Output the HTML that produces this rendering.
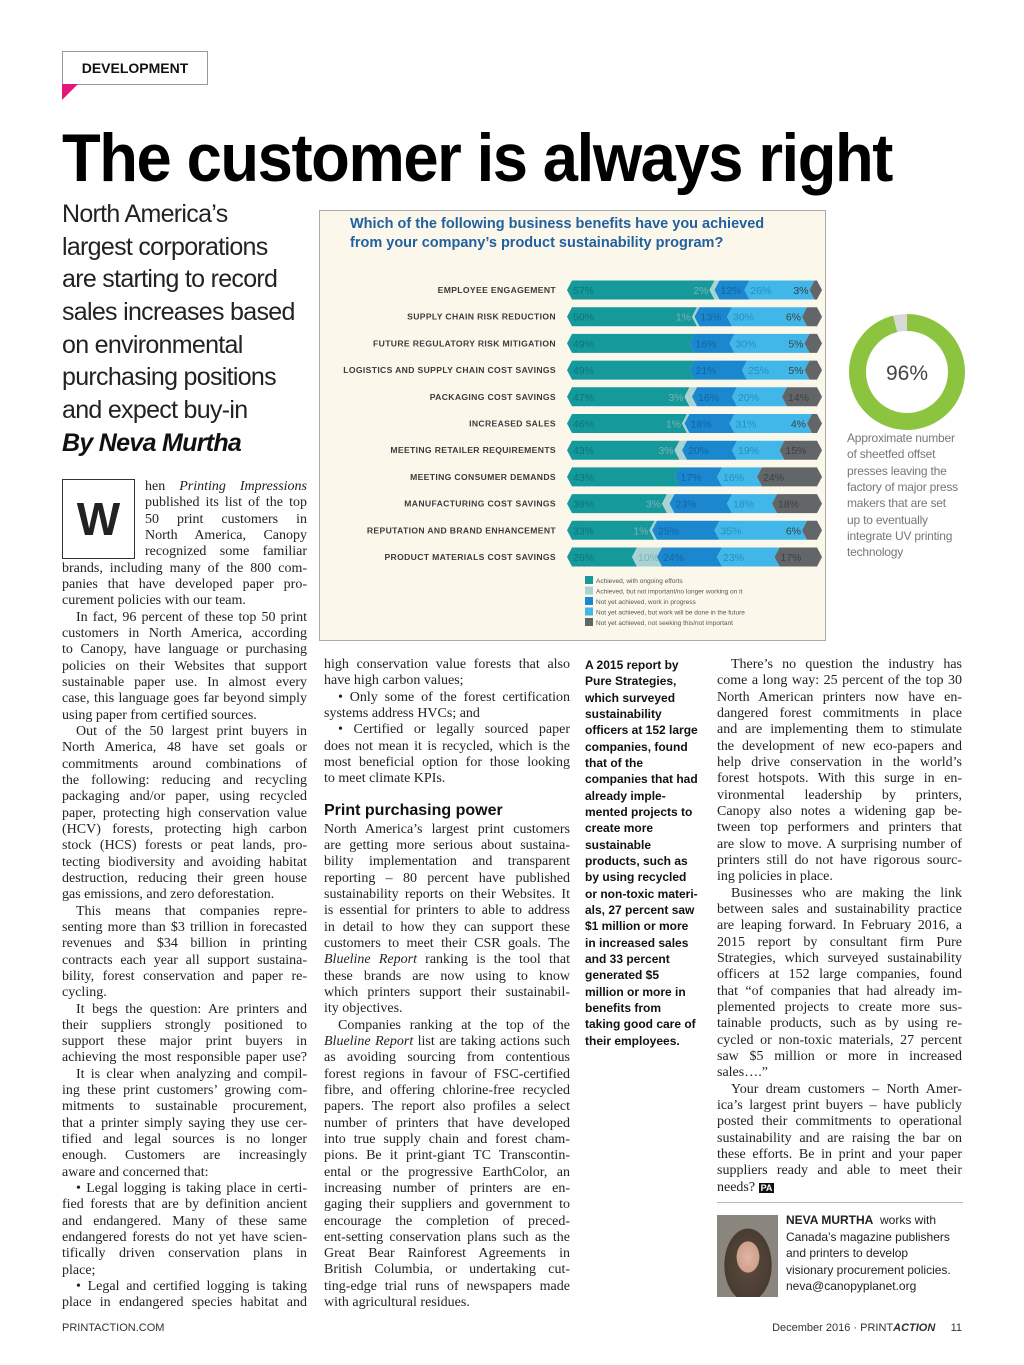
<!DOCTYPE html>
<html><head><meta charset="utf-8">
<style>
*{margin:0;padding:0;box-sizing:border-box}
body{width:1024px;height:1365px;background:#fff;position:relative;overflow:hidden;font-family:"Liberation Serif",serif;color:#222}
.abs{position:absolute}
.col{position:absolute;font-size:14px;line-height:16.33px}
.col div{white-space:nowrap;height:16.33px}
.j{text-align:justify;text-align-last:justify;white-space:normal!important}
.i{padding-left:14px}
.sans{font-family:"Liberation Sans",sans-serif}
.c3 div{font-family:"Liberation Sans",sans-serif;font-weight:bold;font-size:12px}
.sub div{height:32.7px}
</style></head><body>

<div class="abs sans" style="left:62px;top:51px;width:146px;height:34px;border:1px solid #999;font-weight:bold;font-size:14px;line-height:32px;text-align:center;color:#111">DEVELOPMENT</div>
<div class="abs" style="left:62px;top:84px;width:0;height:0;border-top:16px solid #e6177a;border-left:16px solid transparent;transform:scaleX(-1)"></div>

<div class="abs" id="title" style="left:62px;top:118px;font-family:'Liberation Sans Narrow','Liberation Sans',sans-serif;font-weight:bold;font-size:68px;line-height:80px;letter-spacing:-1.5px;white-space:nowrap;transform-origin:0 0;color:#000">The customer is always right</div>

<div class="abs sub sans" style="left:62px;top:198px;font-size:25px;line-height:32.7px;color:#222;letter-spacing:-0.7px">
<div>North America’s</div><div>largest corporations</div><div>are starting to record</div><div>sales increases based</div><div>on environmental</div><div>purchasing positions</div><div>and expect buy-in</div>
<div style="font-weight:bold;font-style:italic;color:#111">By Neva Murtha</div>
</div>

<div class="abs sans" style="left:62px;top:479px;width:73px;height:80px;border:1px solid #333;font-size:46px;font-weight:bold;text-align:center;line-height:78px">W</div>

<div class="col" style="left:62px;top:479px;width:245px">
<div class="j" style="margin-left:83px">hen <i>Printing Impressions</i></div>
<div class="j" style="margin-left:83px">published its list of the top</div>
<div class="j" style="margin-left:83px">50 print customers in</div>
<div class="j" style="margin-left:83px">North America, Canopy</div>
<div class="j" style="margin-left:83px">recognized some familiar</div>
<div class="j">brands, including many of the 800 com-</div>
<div class="j">panies that have developed paper pro-</div>
<div>curement policies with our team.</div>
<div class="j i">In fact, 96 percent of these top 50 print</div>
<div class="j">customers in North America, according</div>
<div class="j">to Canopy, have language or purchasing</div>
<div class="j">policies on their Websites that support</div>
<div class="j">sustainable paper use. In almost every</div>
<div class="j">case, this language goes far beyond simply</div>
<div>using paper from certified sources.</div>
<div class="j i">Out of the 50 largest print buyers in</div>
<div class="j">North America, 48 have set goals or</div>
<div class="j">commitments around combinations of</div>
<div class="j">the following: reducing and recycling</div>
<div class="j">packaging and/or paper, using recycled</div>
<div class="j">paper, protecting high conservation value</div>
<div class="j">(HCV) forests, protecting high carbon</div>
<div class="j">stock (HCS) forests or peat lands, pro-</div>
<div class="j">tecting biodiversity and avoiding habitat</div>
<div class="j">destruction, reducing their green house</div>
<div>gas emissions, and zero deforestation.</div>
<div class="j i">This means that companies repre-</div>
<div class="j">senting more than $3 trillion in forecasted</div>
<div class="j">revenues and $34 billion in printing</div>
<div class="j">contracts each year all support sustaina-</div>
<div class="j">bility, forest conservation and paper re-</div>
<div>cycling.</div>
<div class="j i">It begs the question: Are printers and</div>
<div class="j">their suppliers strongly positioned to</div>
<div class="j">support these major print buyers in</div>
<div class="j">achieving the most responsible paper use?</div>
<div class="j i">It is clear when analyzing and compil-</div>
<div class="j">ing these print customers’ growing com-</div>
<div class="j">mitments to sustainable procurement,</div>
<div class="j">that a printer simply saying they use cer-</div>
<div class="j">tified and legal sources is no longer</div>
<div class="j">enough. Customers are increasingly</div>
<div>aware and concerned that:</div>
<div class="j i">• Legal logging is taking place in certi-</div>
<div class="j">fied forests that are by definition ancient</div>
<div class="j">and endangered. Many of these same</div>
<div class="j">endangered forests do not yet have scien-</div>
<div class="j">tifically driven conservation plans in</div>
<div>place;</div>
<div class="j i">• Legal and certified logging is taking</div>
<div class="j">place in endangered species habitat and</div>
</div>

<div class="col" style="left:324px;top:657px;width:246px">
<div class="j">high conservation value forests that also</div>
<div>have high carbon values;</div>
<div class="j i">• Only some of the forest certification</div>
<div>systems address HVCs; and</div>
<div class="j i">• Certified or legally sourced paper</div>
<div class="j">does not mean it is recycled, which is the</div>
<div class="j">most beneficial option for those looking</div>
<div>to meet climate KPIs.</div>
<div style="height:34px;padding-top:13px;font-family:'Liberation Sans',sans-serif;font-weight:bold;font-size:16px;line-height:20px;color:#111">Print purchasing power</div>
<div class="j">North America’s largest print customers</div>
<div class="j">are getting more serious about sustaina-</div>
<div class="j">bility implementation and transparent</div>
<div class="j">reporting – 80 percent have published</div>
<div class="j">sustainability reports on their Websites. It</div>
<div class="j">is essential for printers to able to address</div>
<div class="j">in detail to how they can support these</div>
<div class="j">customers to meet their CSR goals. The</div>
<div class="j"><i>Blueline Report</i> ranking is the tool that</div>
<div class="j">these brands are now using to know</div>
<div class="j">which printers support their sustainabil-</div>
<div>ity objectives.</div>
<div class="j i">Companies ranking at the top of the</div>
<div class="j"><i>Blueline Report</i> list are taking actions such</div>
<div class="j">as avoiding sourcing from contentious</div>
<div class="j">forest regions in favour of FSC-certified</div>
<div class="j">fibre, and offering chlorine-free recycled</div>
<div class="j">papers. The report also profiles a select</div>
<div class="j">number of printers that have developed</div>
<div class="j">into true supply chain and forest cham-</div>
<div class="j">pions. Be it print-giant TC Transcontin-</div>
<div class="j">ental or the progressive EarthColor, an</div>
<div class="j">increasing number of printers are en-</div>
<div class="j">gaging their suppliers and government to</div>
<div class="j">encourage the completion of preced-</div>
<div class="j">ent-setting conservation plans such as the</div>
<div class="j">Great Bear Rainforest Agreements in</div>
<div class="j">British Columbia, or undertaking cut-</div>
<div class="j">ting-edge trial runs of newspapers made</div>
<div>with agricultural residues.</div>
</div>

<div class="col c3" style="left:585px;top:657px;width:120px;color:#111">
<div>A 2015 report by</div><div>Pure Strategies,</div><div>which surveyed</div><div>sustainability</div><div>officers at 152 large</div><div>companies, found</div><div>that of the</div><div>companies that had</div><div>already imple-</div><div>mented projects to</div><div>create more</div><div>sustainable</div><div>products, such as</div><div>by using recycled</div><div>or non-toxic materi-</div><div>als, 27 percent saw</div><div>$1 million or more</div><div>in increased sales</div><div>and 33 percent</div><div>generated $5</div><div>million or more in</div><div>benefits from</div><div>taking good care of</div><div>their employees.</div>
</div>

<div class="col" style="left:717px;top:657px;width:245px">
<div class="j i">There’s no question the industry has</div>
<div class="j">come a long way: 25 percent of the top 30</div>
<div class="j">North American printers now have en-</div>
<div class="j">dangered forest commitments in place</div>
<div class="j">and are implementing them to stimulate</div>
<div class="j">the development of new eco-papers and</div>
<div class="j">help drive conservation in the world’s</div>
<div class="j">forest hotspots. With this surge in en-</div>
<div class="j">vironmental leadership by printers,</div>
<div class="j">Canopy also notes a widening gap be-</div>
<div class="j">tween top performers and printers that</div>
<div class="j">are slow to move. A surprising number of</div>
<div class="j">printers still do not have rigorous sourc-</div>
<div>ing policies in place.</div>
<div class="j i">Businesses who are making the link</div>
<div class="j">between sales and sustainability practice</div>
<div class="j">are leaping forward. In February 2016, a</div>
<div class="j">2015 report by consultant firm Pure</div>
<div class="j">Strategies, which surveyed sustainability</div>
<div class="j">officers at 152 large companies, found</div>
<div class="j">that “of companies that had already im-</div>
<div class="j">plemented projects to create more sus-</div>
<div class="j">tainable products, such as by using re-</div>
<div class="j">cycled or non-toxic materials, 27 percent</div>
<div class="j">saw $5 million or more in increased</div>
<div>sales….”</div>
<div class="j i">Your dream customers – North Amer-</div>
<div class="j">ica’s largest print buyers – have publicly</div>
<div class="j">posted their commitments to operational</div>
<div class="j">sustainability and are raising the bar on</div>
<div class="j">these efforts. Be in print and your paper</div>
<div class="j">suppliers ready and able to meet their</div>
<div>needs? <span class="sans" style="background:#111;color:#fff;font-size:9px;font-weight:bold;padding:0 2px">PA</span></div>
</div>

<div class="abs" style="left:717px;top:1202px;width:246px;height:1px;background:#bbb"></div>
<div class="abs" style="left:717px;top:1215px;width:61px;height:82px;background:radial-gradient(ellipse 16px 22px at 31px 42px,#e0b6a2 0,#cf9f8a 70%,transparent 72%),radial-gradient(ellipse 26px 40px at 31px 50px,#5a4a3e 0,#4a3c32 90%,transparent 92%),#8a857d"></div>
<div class="abs sans" style="left:786px;top:1212px;font-size:12px;line-height:16.5px;color:#222;white-space:nowrap">
<div><b>NEVA MURTHA</b>&nbsp; works with</div><div>Canada’s magazine publishers</div><div>and printers to develop</div><div>visionary procurement policies.</div><div>neva@canopyplanet.org</div></div>

<div class="abs sans" style="left:62px;top:1322px;font-size:11px;color:#333">PRINTACTION.COM</div>
<div class="abs sans" style="right:62px;top:1322px;font-size:11px;color:#333;white-space:nowrap">December 2016 · PRINT<b><i>ACTION</i></b>&nbsp;&nbsp;&nbsp;&nbsp; 11</div>

<svg class="abs" style="left:845px;top:310px" width="124" height="124">
<g id="donut"></g>
<text x="62" y="70" text-anchor="middle" font-family="Liberation Sans, sans-serif" font-size="21" fill="#444">96%</text>
</svg>
<div class="abs sans" style="left:847px;top:430px;font-size:12px;line-height:16.33px;color:#777;letter-spacing:-0.2px;white-space:nowrap">
<div>Approximate number</div><div>of sheetfed offset</div><div>presses leaving the</div><div>factory of major press</div><div>makers that are set</div><div>up to eventually</div><div>integrate UV printing</div><div>technology</div></div>

<svg class="abs" id="chart" style="left:319px;top:210px" width="507" height="431">
<rect x="0.5" y="0.5" width="506" height="430" fill="#fbf8eb" stroke="#aaa"/>
<text x="31" y="18" font-family="Liberation Sans, sans-serif" font-weight="bold" font-size="14.5" fill="#22609f"><tspan x="31" dy="0">Which of the following business benefits have you achieved</tspan><tspan x="31" dy="19">from your company’s product sustainability program?</tspan></text>
<g id="bars"></g>
<g id="legend"></g>
</svg>

<script>
const categories=["EMPLOYEE ENGAGEMENT","SUPPLY CHAIN RISK REDUCTION","FUTURE REGULATORY RISK MITIGATION","LOGISTICS AND SUPPLY CHAIN COST SAVINGS","PACKAGING COST SAVINGS","INCREASED SALES","MEETING RETAILER REQUIREMENTS","MEETING CONSUMER DEMANDS","MANUFACTURING COST SAVINGS","REPUTATION AND BRAND ENHANCEMENT","PRODUCT MATERIALS COST SAVINGS"];
const achievedOngoing=[57,50,49,49,47,46,43,43,38,33,26];
const achievedNotImportant=[2,1,0,0,3,1,3,0,3,1,10];
const workInProgress=[12,13,16,21,16,18,20,17,23,25,24];
const futureWork=[26,30,30,25,20,31,19,16,18,35,23];
const notSeeking=[3,6,5,5,14,4,15,24,18,6,17];
const seriesNames=["Achieved, with ongoing efforts","Achieved, but not important/no longer working on it","Not yet achieved, work in progress","Not yet achieved, but work will be done in the future","Not yet achieved, not seeking this/not important"];
const donutValues=[96,4];

const series=[achievedOngoing,achievedNotImportant,workInProgress,futureWork,notSeeking];
const colors=["#15999b","#a8d2d4","#1a87cf","#40b7e8","#626669"];
const txtCol=["#0d7577","#7fb0b4","#12679f","#2590bf","#3e4144"];
const NS="http://www.w3.org/2000/svg";
const x0=248,pxPer=2.5,rowY0=80,rowStep=26.7,bh=19;
const xs=v=>x0+v*pxPer;
const ys=i=>rowY0+i*rowStep;
const bars=document.getElementById('bars');
categories.forEach((c,i)=>{
  const yc=ys(i);
  const t=document.createElementNS(NS,'text');
  
  
  t.setAttribute('x',237);t.setAttribute('y',yc+3);t.setAttribute('text-anchor','end');
  t.setAttribute('font-family','Liberation Sans, sans-serif');t.setAttribute('font-weight','bold');t.setAttribute('font-size','8.6');t.setAttribute('letter-spacing','0.35');t.setAttribute('fill','#3a3a3a');
  t.textContent=c;bars.appendChild(t);
  let cum=0;
  series.forEach((s,k)=>{
    const v=s[i];if(!v)return;
    const a=xs(cum),b=xs(cum+v);cum+=v;
    const top=yc-bh/2,bot=yc+bh/2,n=5;
    const p=document.createElementNS(NS,'polygon');
    
    
    const right=(k===4)?`${b},${top} ${b+n},${yc} ${b},${bot}`:`${b+n},${top} ${b},${yc} ${b+n},${bot}`;
    p.setAttribute('points',`${a+n},${top} ${right} ${a+n},${bot} ${a},${yc}`);
    p.setAttribute('fill',colors[k]);bars.appendChild(p);
    const l=document.createElementNS(NS,'text');
    
    
    const narrow=(b-a)<16;
    l.setAttribute('x',narrow?a-1:a+6);l.setAttribute('y',yc+4);
    if(narrow)l.setAttribute('text-anchor','end');
    l.setAttribute('font-family','Liberation Sans, sans-serif');l.setAttribute('font-size','10.5');l.setAttribute('fill',txtCol[k]);
    l.textContent=v+'%';bars.appendChild(l);
  });
});
const lg=document.getElementById('legend');
seriesNames.forEach((n,k)=>{
  const y=366+k*10.5;
  const r=document.createElementNS(NS,'rect');
  
  
  r.setAttribute('x',266);r.setAttribute('y',y);r.setAttribute('width',8);r.setAttribute('height',8);r.setAttribute('fill',colors[k]);lg.appendChild(r);
  const t=document.createElementNS(NS,'text');
  
  
  t.setAttribute('x',277);t.setAttribute('y',y+7);t.setAttribute('font-family','Liberation Sans, sans-serif');t.setAttribute('font-size','6.5');t.setAttribute('fill','#555');
  t.textContent=n;lg.appendChild(t);
});
const dg=document.getElementById('donut');
const cx=62,cy=62,R=49.5,sw=17,circ=2*Math.PI*R;
const dcol=["#8cc43f","#d8d8d8"];
let off=0;
const total=donutValues.reduce((a,b)=>a+b,0);
donutValues.forEach((v,k)=>{
  const c=document.createElementNS(NS,'circle');
  
  
  c.setAttribute('cx',cx);c.setAttribute('cy',cy);c.setAttribute('r',R);c.setAttribute('fill','none');
  c.setAttribute('stroke',dcol[k]);c.setAttribute('stroke-width',sw);
  const len=v/total*circ;
  c.setAttribute('stroke-dasharray',`${len} ${circ-len}`);
  c.setAttribute('stroke-dashoffset',-off);
  c.setAttribute('transform',`rotate(-90 ${cx} ${cy})`);
  off+=len;dg.appendChild(c);
});
const ti=document.getElementById('title');
const w=ti.getBoundingClientRect().width;
ti.style.transform=`scaleX(${830/w})`;
</script>
</body></html>
